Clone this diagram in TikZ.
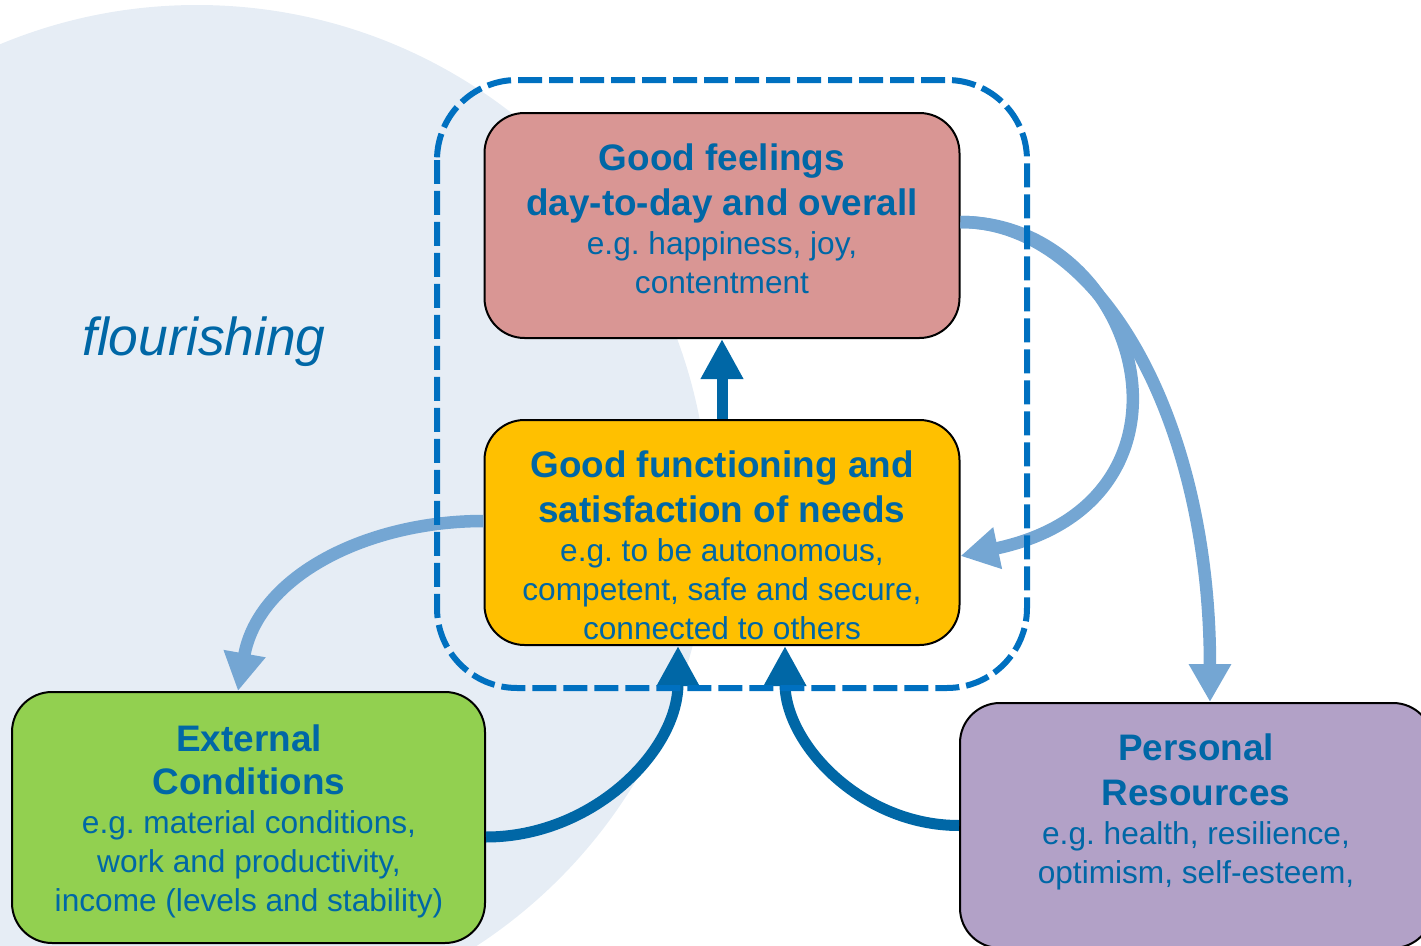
\documentclass[tikz,border=0pt]{standalone}
\usepackage{fontspec}
\setmainfont{Liberation Sans}
\usetikzlibrary{arrows.meta,positioning}

\definecolor{textBlue}{RGB}{0,103,166}
\definecolor{dashBlue}{RGB}{0,112,192}
\definecolor{lightBlue}{RGB}{116,166,211}
\definecolor{bgBlue}{RGB}{230,237,245}
\definecolor{feelPink}{RGB}{217,150,148}
\definecolor{needsYellow}{RGB}{255,192,0}
\definecolor{extGreen}{RGB}{146,208,80}
\definecolor{persPurple}{RGB}{178,161,199}

\newcommand{\heading}[1]{{\fontsize{10.5}{12.8}\selectfont\bfseries #1}}
\frenchspacing

\begin{document}
\begin{tikzpicture}[x=0.1mm,y=-0.1mm,
    block/.style={draw=black,line width=0.2mm,rounded corners=4mm,minimum width=47.5mm,minimum height=22.5mm},
    txt/.style={text=textBlue,align=center,font=\fontsize{9}{11.1}\selectfont,inner sep=0pt},
    strong/.style={draw=textBlue,line width=1.1mm,-{Triangle[length=4mm,width=4mm]}},
    weak/.style={draw=lightBlue,line width=1.25mm,-{Triangle[length=3.8mm,width=4mm]}},
    wellFrame/.style={draw=dashBlue,line width=0.6mm,dash pattern=on 2.4mm off 0.7mm,rounded corners=8mm}]

  \useasboundingbox (0,0) rectangle (1421,946);
  \clip (0,0) rectangle (1421,946);

  % flourishing background
  \fill[bgBlue] (197,517) circle [radius=51.2mm];
  \node[text=textBlue,font=\fontsize{15.2}{18}\selectfont\itshape] (Flourishing) at (204,342) {flourishing};

  % boxes
  \node[block,fill=feelPink]    (GoodFeelings)    at (722,225.5) {};
  \node[block,fill=needsYellow] (GoodFunctioning) at (722,532.5) {};
  \node[block,fill=extGreen,minimum width=47.3mm,minimum height=25.1mm]   (ExternalCond) at (248.5,817.5) {};
  \node[block,fill=persPurple,minimum width=47.3mm,minimum height=24.5mm] (PersonalRes)  at (1196.5,825.5) {};

  \node[txt] (GoodFeelingsTxt) at (722,219)
    {\heading{Good feelings}\\[1.7pt] \heading{day-to-day and overall}\\ e.g. happiness, joy,\\ contentment};
  \node[txt] (GoodFunctioningTxt) at (722,545)
    {\heading{Good functioning and}\\[1.7pt] \heading{satisfaction of needs}\\ e.g. to be autonomous,\\ competent, safe and secure,\\ connected to others};
  \node[txt] (ExternalCondTxt) at (249,821.5)
    {\heading{External}\\[1.2pt] \heading{Conditions}\\ e.g. material conditions,\\ work and productivity,\\ income (levels and stability)};
  \node[txt] (PersonalResTxt) at (1196,812)
    {\heading{Personal}\\[1.7pt] \heading{Resources}\\ e.g. health, resilience,\\ optimism, self-esteem,};

  % arrows
  \draw[strong] (GoodFunctioning) -- (GoodFeelings);
  \draw[strong] ([yshift=-1.95mm]ExternalCond.east) to[out=0,in=-90] ([xshift=-4.4mm]GoodFunctioning.south);
  \draw[strong] (PersonalRes.west) to[out=180,in=-90] ([xshift=6.3mm]GoodFunctioning.south);

  \draw[weak] ([yshift=1.15mm]GoodFunctioning.west) to[out=180,in=80] ([xshift=-1.05mm]ExternalCond.north);
  \draw[weak] ([yshift=0.35mm]GoodFeelings.east) .. controls +(180,0) and +(260,-55) .. ([yshift=-2.35mm]GoodFunctioning.east);
  \draw[weak] ([yshift=0.35mm]GoodFeelings.east) .. controls +(140,0) and +(0,-282) .. ([xshift=1.35mm]PersonalRes.north);

  % dashed frame round the two inner boxes
  \draw[wellFrame] (437,80) rectangle (1027,688);
\end{tikzpicture}
\end{document}
